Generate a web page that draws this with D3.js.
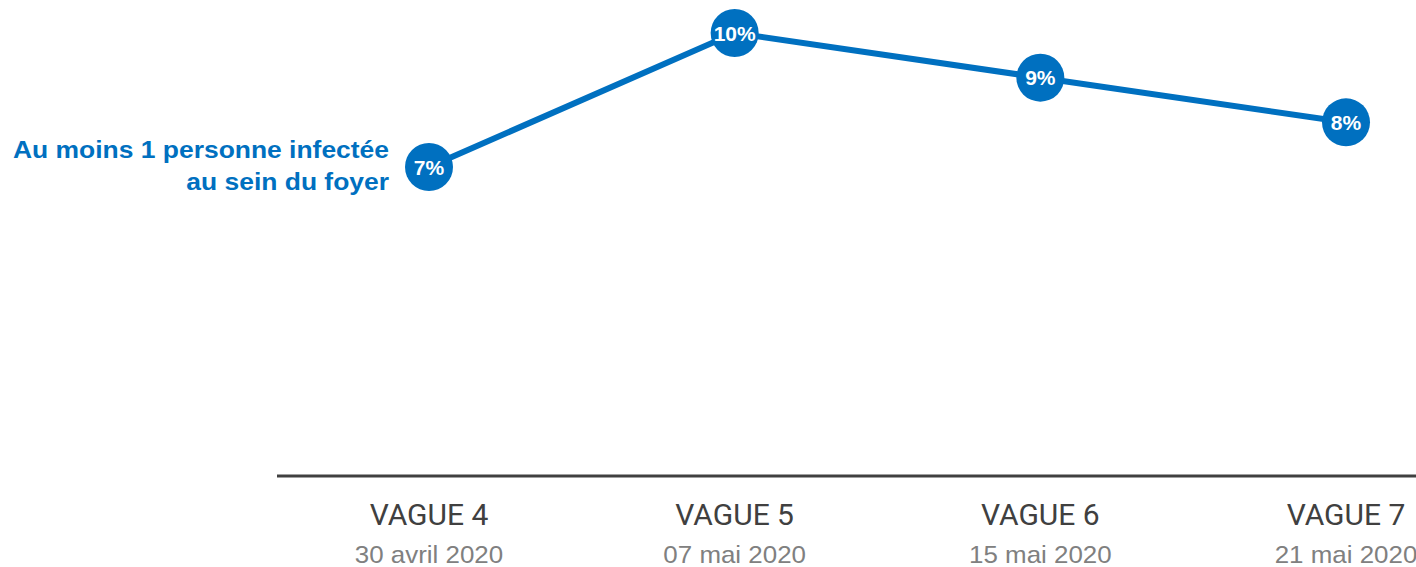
<!DOCTYPE html>
<html><head><meta charset="utf-8">
<script src="https://cdn.jsdelivr.net/npm/d3@7"></script>
<style>body{margin:0;background:#fff;}svg{display:block;}</style>
</head><body>
<svg id="c" width="1416" height="567"></svg>
<script>
const waves = ["VAGUE 4","VAGUE 5","VAGUE 6","VAGUE 7"];
const dates = ["30 avril 2020","07 mai 2020","15 mai 2020","21 mai 2020"];
const values = [7, 10, 9, 8];
const seriesName = ["Au moins 1 personne infectée","au sein du foyer"];

const svg = d3.select("#c");
const blue = "#0070C0";
const x = d3.scalePoint().domain(waves).range([429, 1346]);
const y = d3.scaleLinear().domain([7, 10]).range([167, 33]);
const arial = "'Liberation Sans', Arial, sans-serif";

svg.append("line").attr("x1",277).attr("x2",1416).attr("y1",476).attr("y2",476)
  .attr("stroke","#404040").attr("stroke-width",3);

svg.selectAll("text.w").data(waves).join("text").attr("class","w")
  .attr("x",d=>x(d)).attr("y",525).attr("text-anchor","middle")
  .attr("font-family","Roboto, sans-serif")
  .attr("font-size",30).attr("fill","#404040").text(d=>d);
svg.selectAll("text.d").data(dates).join("text").attr("class","d")
  .attr("transform",(d,i)=>`translate(${x(waves[i])},563) scale(1.08,1)`)
  .attr("text-anchor","middle")
  .attr("font-family",arial)
  .attr("font-size",24).attr("fill","#808080").text(d=>d);

const line = d3.line().x((d,i)=>x(waves[i])).y(d=>y(d));
svg.append("path").datum(values).attr("d",line).attr("fill","none")
  .attr("stroke",blue).attr("stroke-width",6);

svg.selectAll("circle").data(values).join("circle")
  .attr("cx",(d,i)=>x(waves[i])).attr("cy",d=>y(d)).attr("r",24).attr("fill",blue);
svg.selectAll("text.v").data(values).join("text").attr("class","v")
  .attr("x",(d,i)=>x(waves[i])).attr("y",d=>y(d)+7.5).attr("text-anchor","middle")
  .attr("font-family",arial).attr("font-weight","bold")
  .attr("font-size",21).attr("fill","#fff").text(d=>d+"%");

svg.selectAll("text.s").data(seriesName).join("text").attr("class","s")
  .attr("transform",(d,i)=>`translate(389,${158+i*32}) scale(1.15,1)`)
  .attr("text-anchor","end")
  .attr("font-family",arial).attr("font-weight","bold")
  .attr("font-size",23).attr("fill",blue).text(d=>d);
</script>
</body></html>
